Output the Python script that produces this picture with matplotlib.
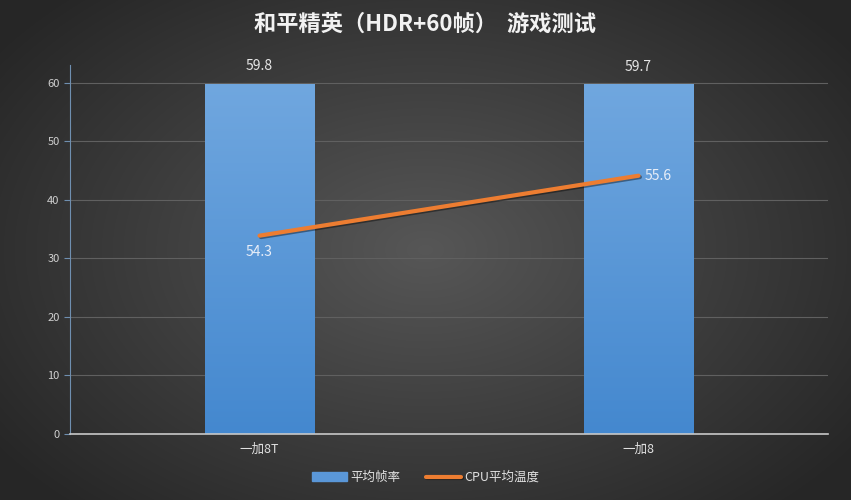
import numpy as np
import matplotlib
matplotlib.use("Agg")
import matplotlib.pyplot as plt
import matplotlib.patheffects as pe

plt.rcParams['font.family'] = ['Noto Sans CJK SC', 'DejaVu Sans']

phones = ['一加8T', '一加8']
fps = [59.8, 59.7]
cpu_temp = [54.3, 55.6]
series_names = ['平均帧率', 'CPU平均温度']
title = '和平精英（HDR+60帧）  游戏测试'

fig = plt.figure(figsize=(8.51, 5.0), dpi=100)

# radial gradient background
bg = fig.add_axes([0, 0, 1, 1], zorder=-10)
yy, xx = np.mgrid[-1:1:500j, -1:1:851j]
r = np.sqrt((xx * 0.9) ** 2 + (yy * 0.8) ** 2)
shade = np.clip(0.34 - 0.17 * r, 0.15, 0.34)
bg.imshow(np.dstack([shade] * 3), aspect='auto', extent=[0, 1, 0, 1])
bg.axis('off')

ax = fig.add_axes([0.0823, 0.132, 0.8907, 0.738])
ax.patch.set_alpha(0)
x = np.arange(len(phones))
bars = ax.bar(x, fps, width=0.29, color='#5a97d8', zorder=2)

# vertical gradient inside each bar
grad = np.linspace(0, 1, 256).reshape(-1, 1)
cmap = matplotlib.colors.LinearSegmentedColormap.from_list('b', ['#4488cf', '#70a7df'])
for b in bars:
    bx, by = b.get_x(), b.get_y()
    im = ax.imshow(grad, cmap=cmap, origin='lower', aspect='auto',
                   extent=[bx, bx + b.get_width(), by, by + b.get_height()], zorder=2)
    im.set_clip_path(b)

for xi, v in zip(x, fps):
    ax.text(xi, v + 1.8, f'{v}', ha='center', va='bottom', color='#e6e6e6', fontsize=10)

ax.set_xlim(-0.5, 1.5)
ax.set_ylim(0, 63)
ax.set_yticks(range(0, 61, 10))
ax.set_xticks(x)
ax.set_xticklabels(phones)
ax.tick_params(axis='y', colors='#d0d0d0', labelsize=8, length=4, width=0.8)
ax.tick_params(axis='y', color='#6f8fb0')
ax.tick_params(axis='x', colors='#e0e0e0', labelsize=9, length=0, pad=6)
ax.grid(axis='y', color='#606060', linewidth=0.8, zorder=0)
ax.set_axisbelow(True)
for s in ['top', 'right']:
    ax.spines[s].set_visible(False)
ax.spines['left'].set_color('#6f8fb0')
ax.spines['bottom'].set_color('#c8c8c8')
ax.spines['bottom'].set_linewidth(1.2)

ax2 = ax.twinx()
ax2.set_ylim(50, 58)
ax2.axis('off')
line, = ax2.plot(x, cpu_temp, color='#ed7d31', linewidth=3, solid_capstyle='round', zorder=5,
                 path_effects=[pe.SimpleLineShadow(offset=(1, -1), alpha=0.4), pe.Normal()])
ax2.text(x[0], cpu_temp[0] - 0.2, f'{cpu_temp[0]}', ha='center', va='top', color='#e8eef8', fontsize=10)
ax2.text(x[1] + 0.015, cpu_temp[1], f'{cpu_temp[1]}', ha='left', va='center', color='#e8eef8', fontsize=10)

fig.text(0.5, 0.952, title, ha='center', va='center', color='#f2f2f2', fontsize=16, fontweight='bold')

h1 = matplotlib.patches.Patch(facecolor='#5a97d8', edgecolor='#5a97d8')
leg = fig.legend([h1, line], series_names, loc='center', bbox_to_anchor=(0.5, 0.045), ncol=2,
                 frameon=False, fontsize=9, labelcolor='#e0e0e0', handlelength=2.8,
                 handleheight=0.7, columnspacing=2.0, handletextpad=0.3)

fig.savefig('out.png', dpi=100)
